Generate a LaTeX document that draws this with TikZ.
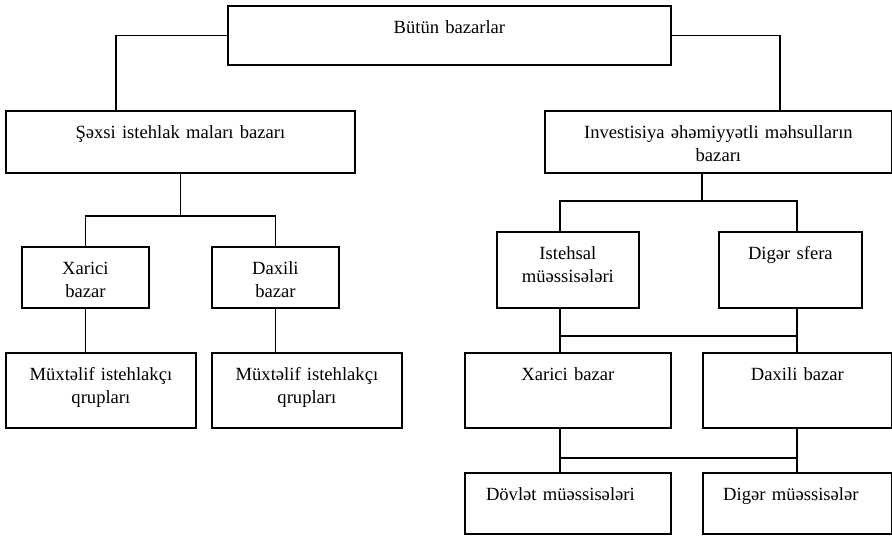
\documentclass[tikz,border=0pt]{standalone}
\usepackage{fontspec}
\setmainfont{Liberation Serif}

\begin{document}
\begin{tikzpicture}[x=1pt, y=-1pt, line width=1.8pt,
  blok/.style={draw, fill=white, inner sep=0pt, align=center, anchor=north west,
    text height=28pt, font=\fontsize{18.6}{22.5}\selectfont}]
\useasboundingbox (0,0) rectangle (892,536);

\node (top) [blok, text width=443pt, text depth=31pt] at (227,5) {Bütün bazarlar};
\node (sexsi) [blok, text width=349pt, text depth=34pt] at (5,110) {Şəxsi istehlak maları bazarı};
\node (inv) [blok, text width=347pt, text depth=34pt] at (544,110) {Investisiya əhəmiyyətli məhsulların\\bazarı};

\node (xar) [blok, text width=127pt, text depth=33pt] at (21,246) {Xarici\\bazar};
\node (dax) [blok, text width=127pt, text depth=33pt] at (211,246) {Daxili\\bazar};
\node (mx1) [blok, text width=190pt, text depth=47pt] at (5,352) {Müxtəlif istehlakçı\\qrupları};
\node (mx2) [blok, text width=190pt, text depth=47pt] at (211,352) {Müxtəlif istehlakçı\\qrupları};

\node (ist) [blok, text width=142pt, text depth=48pt] at (496,231) {Istehsal\\müəssisələri};
\node (dsf) [blok, text width=143pt, text depth=48pt] at (718,231) {Digər sfera};
\node (xb) [blok, text width=206pt, text depth=47pt] at (464,352) {Xarici bazar};
\node (db) [blok, text width=189pt, text depth=47pt] at (702,352) {Daxili bazar};
\node (dm) [blok, text width=206pt, text depth=33pt] at (464,472) {\hspace*{-15pt}Dövlət müəssisələri};
\node (dgm) [blok, text width=189pt, text depth=33pt] at (702,472) {\hspace*{-13pt}Digər müəssisələr};

% columns and buses
\coordinate (cA) at (116,0);
\coordinate (cB) at (780,0);
\coordinate (cM) at (702,0);
\coordinate (cL) at (560,0);
\coordinate (cR) at (797,0);
\coordinate (b0) at (0,216);
\coordinate (b1) at (0,201);
\coordinate (b2) at (0,336);
\coordinate (b3) at (0,458);

% top
\draw (top.west) -| (sexsi.north -| cA);
\draw (top.east) -| (inv.north -| cB);

% left
\draw (sexsi.south) -- (sexsi.south |- b0);
\draw (xar.north) |- (b0 -| dax.north) -- (dax.north);
\draw (xar.south) -- (xar.south |- mx1.north);
\draw (dax.south) -- (dax.south |- mx2.north);

% right
\draw (inv.south -| cM) -- (b1 -| cM);
\draw (ist.north -| cL) -- (b1 -| cL) -- (b1 -| cR) -- (dsf.north -| cR);
\draw (ist.south -| cL) -- (xb.north -| cL);
\draw (dsf.south -| cR) -- (db.north -| cR);
\draw (b2 -| cL) -- (b2 -| cR);
\draw (xb.south -| cL) -- (dm.north -| cL);
\draw (db.south -| cR) -- (dgm.north -| cR);
\draw (b3 -| cL) -- (b3 -| cR);
\end{tikzpicture}
\end{document}
